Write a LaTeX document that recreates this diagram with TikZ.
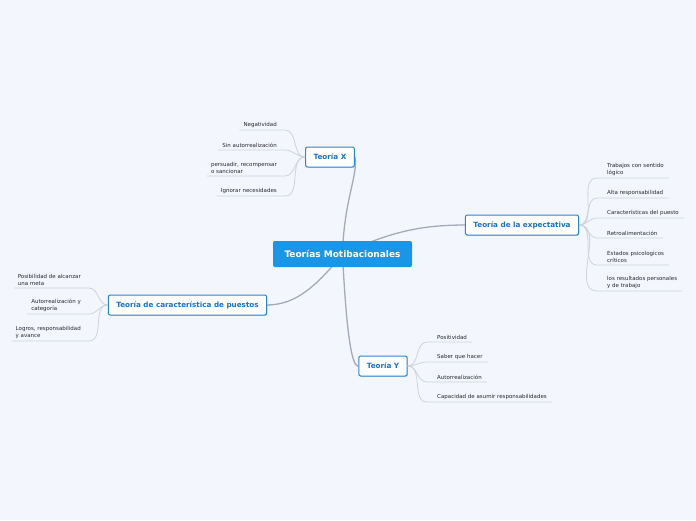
\documentclass[tikz,border=0pt]{standalone}
\usepackage{fontspec}
\setmainfont{DejaVu Sans}
\usetikzlibrary{shadows}
\definecolor{bg}{RGB}{243,246,253}
\definecolor{rootblue}{RGB}{27,150,230}
\definecolor{topicblue}{RGB}{22,112,205}
\definecolor{topicborder}{RGB}{40,132,222}
\definecolor{mainline}{RGB}{165,170,184}
\definecolor{subline}{RGB}{206,210,220}
\definecolor{leaftext}{RGB}{40,40,50}
\tikzset{
  rootbox/.style={fill=rootblue, rounded corners=2pt, text=white, font=\fontsize{9}{10}\selectfont\bfseries,
    minimum width=139pt, minimum height=26pt, inner sep=0pt},
  topicbox/.style={fill=white, draw=topicborder, line width=1pt, rounded corners=2pt, text=topicblue,
    font=\fontsize{7.2}{8}\selectfont\bfseries, minimum height=20pt, inner xsep=8pt, inner ysep=0pt,
    drop shadow={opacity=0.25, shadow xshift=0.8pt, shadow yshift=-0.9pt}},
  leafL/.style={anchor=south east, inner sep=0pt, align=left, text=leaftext, font=\fontsize{5.5}{7}\selectfont},
  leafR/.style={anchor=south west, inner sep=0pt, align=left, text=leaftext, font=\fontsize{5.5}{7}\selectfont},
  mainconn/.style={draw=mainline, line width=1.3pt},
  subconn/.style={draw=subline, line width=0.8pt},
}
\begin{document}
\begin{tikzpicture}[x=1pt,y=-1pt]
\useasboundingbox (0,0) rectangle (696,520);
\fill[bg] (0,0) rectangle (696,520);

% coordinates of centres
\coordinate (rootc) at (342.5,254);
% main connectors (behind boxes)
\path[mainconn] (rootc) .. controls (344,200) and (358,176) .. (355,157);
\path[mainconn] (rootc) .. controls (390,232) and (420,225) .. (466,225);
\path[mainconn] (rootc) .. controls (312,292) and (292,305) .. (266,305);
\path[mainconn] (rootc) .. controls (346,325) and (351,366) .. (358,366);

% topic boxes
\node[rootbox] (root) at (342.5,254) {Teorías Motibacionales};
\node[topicbox] (tx) at (330,157) {Teoría X};
\node[topicbox] (te) at (522,225) {Teoría de la expectativa};
\node[topicbox] (tc) at (187.5,305) {Teoría de característica de puestos};
\node[topicbox] (ty) at (383,366) {Teoría Y};

% Teoria X leaves
\node[leafL] (x1) at (277,127.5) {Negatividad};
\node[leafL] (x2) at (277,147.5) {Sin autorrealización};
\node[leafL] (x3) at (277,173.5) {persuadir, recompensar\\o sancionar};
\node[leafL] (x4) at (277,193.5) {Ignorar necesidades};
\foreach \n in {x1,x2,x3,x4}{
  \draw[subconn] (tx.west) to[out=180,in=0] ([xshift=8pt,yshift=-2.5pt]\n.south east) -- ([xshift=-4pt,yshift=-2.5pt]\n.south west);
}

% Expectativa leaves
\node[leafR] (e1) at (607,175.5) {Trabajos con sentido\\lógico};
\node[leafR] (e2) at (607,195.5) {Alta responsabilidad};
\node[leafR] (e3) at (607,215.5) {Características del puesto};
\node[leafR] (e4) at (607,235.5) {Retroalimentación};
\node[leafR] (e5) at (607,262.5) {Estados psicologicos\\críticos};
\node[leafR] (e6) at (607,288.5) {los resultados personales\\y de trabajo};
\foreach \n in {e1,e2,e3,e4,e5,e6}{
  \draw[subconn] (te.east) to[out=0,in=180] ([xshift=-10pt,yshift=-2.5pt]\n.south west) -- ([xshift=5pt,yshift=-2.5pt]\n.south east);
}

% Caracteristica leaves
\node[leafL] (c1) at (81,285.5) {Posibilidad de alcanzar\\una meta};
\node[leafL] (c2) at (81,311.5) {Autorrealización y\\categoría};
\node[leafL] (c3) at (81,338.5) {Logros, responsabilidad\\y avance};
\foreach \n in {c1,c2,c3}{
  \draw[subconn] (tc.west) to[out=180,in=0] ([xshift=8pt,yshift=-2.5pt]\n.south east) -- ([xshift=-4pt,yshift=-2.5pt]\n.south west);
}

% Teoria Y leaves
\node[leafR] (y1) at (437,339.5) {Positividad};
\node[leafR] (y2) at (437,359.5) {Saber que hacer};
\node[leafR] (y3) at (437,379.5) {Autorrealización};
\node[leafR] (y4) at (437,399.5) {Capacidad de asumir responsabilidades};
\foreach \n in {y1,y2,y3,y4}{
  \draw[subconn] (ty.east) to[out=0,in=180] ([xshift=-10pt,yshift=-2.5pt]\n.south west) -- ([xshift=5pt,yshift=-2.5pt]\n.south east);
}
\end{tikzpicture}
\end{document}
